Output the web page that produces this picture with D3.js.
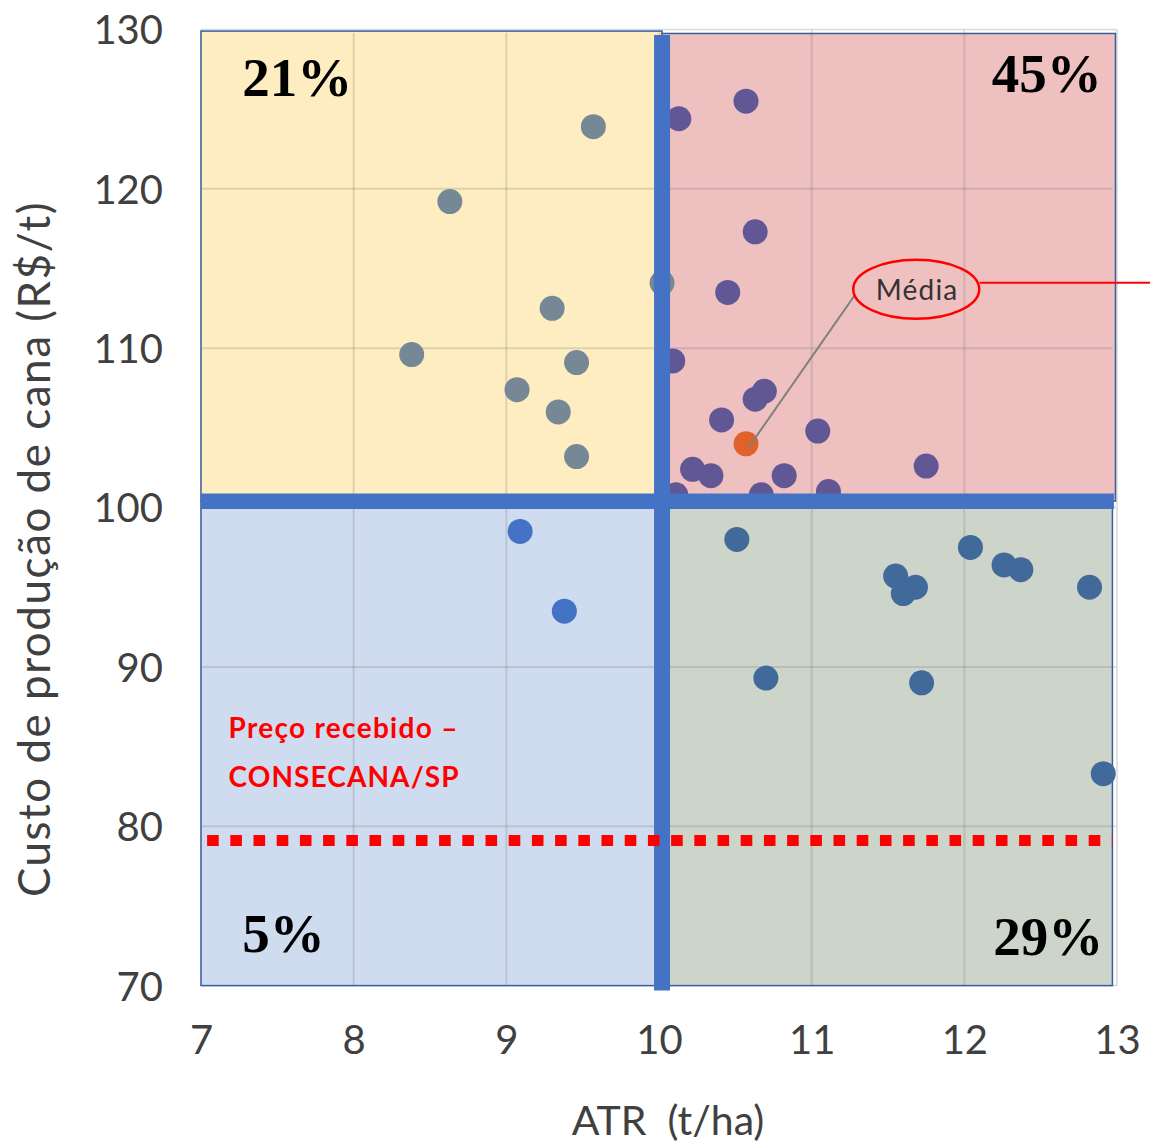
<!DOCTYPE html>
<html>
<head>
<meta charset="utf-8">
<script src="https://cdn.jsdelivr.net/npm/d3@7"></script>
<style>
  body { margin: 0; background: #fff; }
</style>
</head>
<body>
<script>
// Dimensions
const width = 1150;
const height = 1146;
const margin = { top: 29.5, right: 33, bottom: 160.4, left: 201 };

// Data
const xTicks = [7, 8, 9, 10, 11, 12, 13];
const yTicks = [70, 80, 90, 100, 110, 120, 130];

// points: [ATR, custo]
const topLeft = [
  [9.57, 123.9], [8.63, 119.2], [9.30, 112.5], [8.38, 109.6], [9.46, 109.1],
  [9.07, 107.4], [9.34, 106.0], [9.46, 103.2], [10.02, 114.1]
];
const topRight = [
  [10.13, 124.4], [10.57, 125.5], [10.63, 117.3], [10.45, 113.5], [10.09, 109.2],
  [10.69, 107.3], [10.63, 106.8], [10.41, 105.5], [11.04, 104.8], [11.75, 102.6],
  [10.22, 102.4], [10.34, 102.0], [10.82, 102.0], [10.11, 100.8], [10.67, 100.8],
  [11.11, 101.0]
];
const bottomLeft = [[9.09, 98.5], [9.38, 93.5]];
const bottomRight = [
  [10.51, 98.0], [11.55, 95.7], [11.68, 95.0], [11.60, 94.6], [12.04, 97.5],
  [12.26, 96.4], [12.37, 96.1], [12.82, 95.0], [10.70, 89.3], [11.72, 89.0],
  [12.91, 83.3]
];
const media = [10.57, 104.0];

// quadrant split and received price
const splitX = 10.02;
const splitY = 100.4;
const precoConsecana = 79.1;

const quadrants = [
  { x0: 7, x1: splitX, y0: splitY, y1: 129.9, fill: '#feedc1', pct: '21%', px: 7.27, py: 125.8, anchor: 'start' },
  { x0: splitX, x1: 12.99, y0: splitY, y1: 129.75, fill: '#eec0c0', pct: '45%', px: 12.9, py: 126.1, anchor: 'end' },
  { x0: 7, x1: splitX, y0: 70, y1: splitY, fill: '#cfdcef', pct: '5%', px: 7.27, py: 72.1, anchor: 'start' },
  { x0: splitX, x1: 12.97, y0: 70, y1: splitY, fill: '#cdd5ca', pct: '29%', px: 12.91, py: 71.9, anchor: 'end' }
];

const series = [
  { pts: topLeft, color: '#768896' },
  { pts: topRight, color: '#625795' },
  { pts: bottomLeft, color: '#4472c4' },
  { pts: bottomRight, color: '#416a9b' }
];

const svg = d3.select('body')
  .append('svg')
  .attr('width', width)
  .attr('height', height)
  .style('font-family', 'Lato, sans-serif');

const x = d3.scaleLinear()
  .domain([7, 13])
  .range([margin.left, width - margin.right]);

const y = d3.scaleLinear()
  .domain([70, 130])
  .range([height - margin.bottom, margin.top]);

// Grid in white area
svg.append('g')
  .selectAll('line.vx')
  .data(xTicks)
  .join('line')
  .attr('x1', d => x(d)).attr('x2', d => x(d))
  .attr('y1', y(130)).attr('y2', y(70))
  .attr('stroke', '#d9d9d9').attr('stroke-width', 1.5);
svg.append('g')
  .selectAll('line')
  .data(yTicks)
  .join('line')
  .attr('x1', x(7)).attr('x2', x(13))
  .attr('y1', d => y(d)).attr('y2', d => y(d))
  .attr('stroke', '#d9d9d9').attr('stroke-width', 1.5);

// Quadrants
svg.append('g')
  .selectAll('rect')
  .data(quadrants)
  .join('rect')
  .attr('x', d => x(d.x0))
  .attr('y', d => y(d.y1))
  .attr('width', d => x(d.x1) - x(d.x0))
  .attr('height', d => y(d.y0) - y(d.y1))
  .attr('fill', d => d.fill)
  .attr('stroke', '#3a5d9e')
  .attr('stroke-width', 1.5);

// Grid over quadrants
const grid = svg.append('g')
  .attr('stroke', 'rgba(110,110,110,0.22)')
  .attr('stroke-width', 2);
grid.selectAll('line.v')
  .data(xTicks.slice(1, -1))
  .join('line')
  .attr('x1', d => x(d)).attr('x2', d => x(d))
  .attr('y1', y(129.8)).attr('y2', y(70));
grid.selectAll('line.h')
  .data(yTicks.slice(1, -1))
  .join('line')
  .attr('x1', x(7)).attr('x2', x(12.97))
  .attr('y1', d => y(d)).attr('y2', d => y(d));

// Points
series.forEach(s => {
  svg.append('g')
    .selectAll('circle')
    .data(s.pts)
    .join('circle')
    .attr('cx', d => x(d[0]))
    .attr('cy', d => y(d[1]))
    .attr('r', 12.5)
    .attr('fill', s.color);
});
svg.append('circle')
  .attr('cx', x(media[0]))
  .attr('cy', y(media[1]))
  .attr('r', 12.5)
  .attr('fill', '#e0622a');

// Split lines
svg.append('line')
  .attr('x1', x(7)).attr('x2', x(12.98))
  .attr('y1', y(splitY)).attr('y2', y(splitY))
  .attr('stroke', '#4472c4').attr('stroke-width', 15.5);
svg.append('line')
  .attr('x1', x(splitX)).attr('x2', x(splitX))
  .attr('y1', y(129.65)).attr('y2', y(69.7))
  .attr('stroke', '#4472c4').attr('stroke-width', 16);

// Received price line
svg.append('line')
  .attr('x1', x(7.04)).attr('x2', x(12.97))
  .attr('y1', y(precoConsecana)).attr('y2', y(precoConsecana))
  .attr('stroke', '#ff0000')
  .attr('stroke-width', 11)
  .attr('stroke-dasharray', '11.6 11.6');

svg.append('text')
  .attr('x', x(7.18)).attr('y', y(85.54))
  .attr('fill', '#ff0000')
  .attr('font-size', 28).attr('font-weight', 'bold')
  .attr('letter-spacing', 1.3)
  .text('Preço recebido –');
svg.append('text')
  .attr('x', x(7.18)).attr('y', y(82.47))
  .attr('fill', '#ff0000')
  .attr('font-size', 28).attr('font-weight', 'bold')
  .attr('letter-spacing', 1.1)
  .text('CONSECANA/SP');

// Percent labels
svg.append('g')
  .selectAll('text')
  .data(quadrants)
  .join('text')
  .attr('x', d => x(d.px))
  .attr('y', d => y(d.py))
  .attr('text-anchor', d => d.anchor)
  .attr('font-family', '"Liberation Serif", serif')
  .attr('font-weight', 'bold')
  .attr('font-size', 55)
  .attr('fill', '#000')
  .text(d => d.pct);

// Média annotation
svg.append('line')
  .attr('x1', x(media[0]) + 3).attr('y1', y(media[1]) + 3)
  .attr('x2', x(11.283)).attr('y2', y(113.34))
  .attr('stroke', '#7f7f7f').attr('stroke-width', 2);
svg.append('line')
  .attr('x1', x(12.1)).attr('x2', x(13.22))
  .attr('y1', y(114.1)).attr('y2', y(114.1))
  .attr('stroke', '#ff0000').attr('stroke-width', 2);
svg.append('ellipse')
  .attr('cx', x(11.685)).attr('cy', y(113.7))
  .attr('rx', 63).attr('ry', 29.5)
  .attr('fill', 'none')
  .attr('stroke', '#ff0000').attr('stroke-width', 2.5);
svg.append('text')
  .attr('x', x(11.42)).attr('y', y(113.05))
  .attr('font-size', 28).attr('fill', '#333')
  .attr('letter-spacing', 1.2)
  .text('Média');

// Axes
svg.append('g')
  .attr('transform', `translate(0, ${height - margin.bottom})`)
  .call(d3.axisBottom(x).tickValues(xTicks).tickFormat(d3.format('d')).tickSize(0))
  .call(g => g.select('.domain').remove())
  .call(g => g.selectAll('text')
    .attr('y', 68.5).attr('dy', null)
    .attr('font-size', 40).attr('font-family', 'Lato, sans-serif')
    .attr('fill', '#404040'));

svg.append('g')
  .attr('transform', `translate(${margin.left}, 0)`)
  .call(d3.axisLeft(y).tickValues(yTicks).tickFormat(d3.format('d')).tickSize(0))
  .call(g => g.select('.domain').remove())
  .call(g => g.selectAll('text')
    .attr('x', -38).attr('dy', '0.36em')
    .attr('font-size', 40).attr('font-family', 'Lato, sans-serif')
    .attr('fill', '#404040'));

svg.append('text')
  .attr('x', 668).attr('y', 1135)
  .attr('text-anchor', 'middle')
  .attr('font-size', 41).attr('fill', '#404040')
  .style('white-space', 'pre')
  .text('ATR  (t/ha)');

svg.append('text')
  .attr('transform', 'rotate(-90)')
  .attr('x', -549).attr('y', 50)
  .attr('text-anchor', 'middle')
  .attr('font-size', 44).attr('fill', '#404040')
  .attr('letter-spacing', 1.5)
  .text('Custo de produção de cana (R$/t)');
</script>
</body>
</html>
